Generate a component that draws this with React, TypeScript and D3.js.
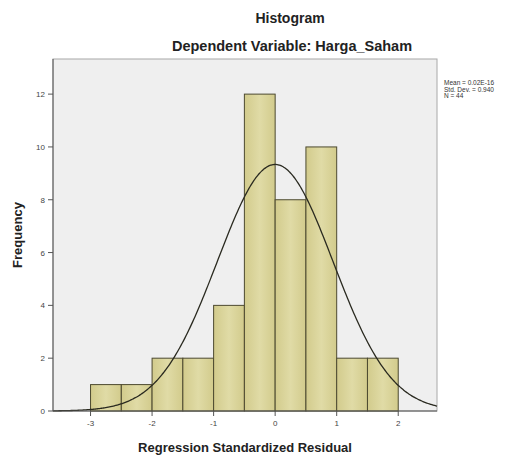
import React from "react";
import * as d3 from "d3";

const binStarts = [-3, -2.5, -2, -1.5, -1, -0.5, 0, 0.5, 1, 1.5];
const frequencies = [1, 1, 2, 2, 4, 12, 8, 10, 2, 2];
const binWidth = 0.5;
const xTicks = [-3, -2, -1, 0, 1, 2];
const yTicks = [0, 2, 4, 6, 8, 10, 12];
const statLines = ["Mean = 0.02E-16", "Std. Dev. = 0.940", "N = 44"];
const meanVal = 0;
const sdVal = 0.94;
const nVal = 44;

export default function App() {
  const W = 523, H = 457;
  const left = 53, right = 437, top = 59, bottom = 411;
  const x = d3.scaleLinear().domain([-3.61, 2.63]).range([left, right]);
  const y = d3.scaleLinear().domain([0, 13.33]).range([bottom, top]);
  const pdf = (v: number) =>
    (nVal * binWidth) / (sdVal * Math.sqrt(2 * Math.PI)) *
    Math.exp(-0.5 * ((v - meanVal) / sdVal) ** 2);
  const pts = d3.range(0, 301).map((i) => {
    const v = -3.61 + (i / 300) * (2.63 + 3.61);
    return [v, pdf(v)] as [number, number];
  });
  const line = d3.line<[number, number]>().x((d) => x(d[0])).y((d) => y(d[1])).curve(d3.curveBasis);
  const font = "Arial, 'Liberation Sans', sans-serif";
  return (
    <svg width={W} height={H} style={{ position: "absolute", left: 0, top: 0, background: "#fff" }}>
      <defs>
        <linearGradient id="barg" x1="0" x2="1" y1="0" y2="0">
          <stop offset="0" stopColor="#d2cb8c" />
          <stop offset="0.5" stopColor="#e0dba6" />
          <stop offset="1" stopColor="#d2cb8c" />
        </linearGradient>
      </defs>
      <rect x={left} y={top} width={right - left} height={bottom - top} fill="#efefef" stroke="#a8a8a8" strokeWidth={1} />
      {binStarts.map((b, i) => (
        <rect key={i} x={x(b)} y={y(frequencies[i])} width={x(b + binWidth) - x(b)} height={bottom - y(frequencies[i])}
          fill="url(#barg)" stroke="#4d4a30" strokeWidth={1} />
      ))}
      <path d={line(pts) || ""} fill="none" stroke="#2a2a20" strokeWidth={1.3} />
      <line x1={left} x2={left} y1={top} y2={bottom} stroke="#555" />
      <line x1={left} x2={right} y1={bottom} y2={bottom} stroke="#555" />
      {yTicks.map((t) => (
        <g key={t}>
          <line x1={left - 5} x2={left} y1={y(t)} y2={y(t)} stroke="#555" />
          <text x={left - 8} y={y(t) + 3} fontSize={8} fill="#444" textAnchor="end" fontFamily={font}>{t}</text>
        </g>
      ))}
      {xTicks.map((t) => (
        <g key={t}>
          <line x1={x(t)} x2={x(t)} y1={bottom} y2={bottom + 5} stroke="#555" />
          <text x={x(t)} y={bottom + 15} fontSize={8} fill="#444" textAnchor="middle" fontFamily={font}>{t}</text>
        </g>
      ))}
      <text x={290} y={23} fontSize={14} fontWeight="bold" textAnchor="middle" fontFamily={font} fill="#222">Histogram</text>
      <text x={292} y={51} fontSize={14.5} fontWeight="bold" textAnchor="middle" fontFamily={font} fill="#222">Dependent Variable: Harga_Saham</text>
      <text x={245} y={452} fontSize={13} fontWeight="bold" textAnchor="middle" fontFamily={font} fill="#222">Regression Standardized Residual</text>
      <text transform={`translate(22,235) rotate(-90)`} fontSize={13} fontWeight="bold" textAnchor="middle" fontFamily={font} fill="#222">Frequency</text>
      {statLines.map((s, i) => (
        <text key={i} x={444} y={85 + i * 6.5} fontSize={6.5} fontFamily={font} fill="#333">{s}</text>
      ))}
    </svg>
  );
}
